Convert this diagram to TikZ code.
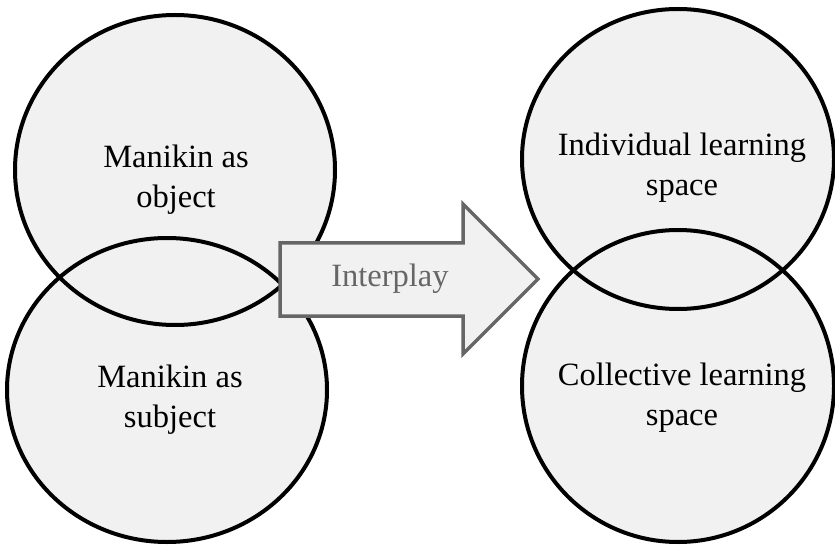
\documentclass[tikz,border=0pt]{standalone}
\usepackage{fontspec}
\setmainfont{Liberation Serif}
\usetikzlibrary{shapes.geometric}
\definecolor{fillgray}{HTML}{F1F1F1}
\definecolor{arrowgray}{HTML}{666666}
\begin{document}
\begin{tikzpicture}[x=1pt,y=-1pt,
  circfill/.style={ellipse, fill=fillgray, draw=none, inner sep=0pt},
  circline/.style={draw=black, line width=4pt},
  lbl/.style={align=center, font=\fontsize{32.5}{40}\selectfont, text=black, inner sep=0pt},
  arrowshape/.style={fill=fillgray, draw=arrowgray, line width=3.5pt, line join=miter},
  arrowlbl/.style={font=\fontsize{32.5}{40}\selectfont, text=arrowgray, inner sep=0pt}]
\useasboundingbox (0,0) rectangle (835,545);
% fills
\node[circfill, minimum width=320pt, minimum height=310pt] (tl) at (175,170) {};
\node[circfill, minimum width=320pt, minimum height=304pt] (bl) at (167,390) {};
\node[circfill, minimum width=312pt, minimum height=300pt] (tr) at (678,159) {};
\node[circfill, minimum width=312pt, minimum height=312pt] (br) at (678,386) {};
% outlines
\draw[circline] (tl.center) ellipse [x radius=160pt, y radius=155pt];
\draw[circline] (bl.center) ellipse [x radius=160pt, y radius=152pt];
\draw[circline] (tr.center) ellipse [x radius=156pt, y radius=150pt];
\draw[circline] (br.center) ellipse [x radius=156pt, y radius=156pt];
% labels
\node[lbl] (tltext) at (176,180) {Manikin as\\object};
\node[lbl] (bltext) at (170,400) {Manikin as\\subject};
\node[lbl] (trtext) at (682,168) {Individual learning\\space};
\node[lbl] (brtext) at (682,398) {Collective learning\\space};
% arrow
\coordinate (a1) at (280,243);
\coordinate (a2) at (463,243);
\coordinate (a3) at (463,204);
\coordinate (tip) at (538,279);
\coordinate (a5) at (463,354);
\coordinate (a6) at (463,316);
\coordinate (a7) at (280,316);
\draw[arrowshape] (a1) -- (a2) -- (a3) -- (tip) -- (a5) -- (a6) -- (a7) -- cycle;
\node[arrowlbl] (inter) at (390,279) {Interplay};
\end{tikzpicture}
\end{document}
